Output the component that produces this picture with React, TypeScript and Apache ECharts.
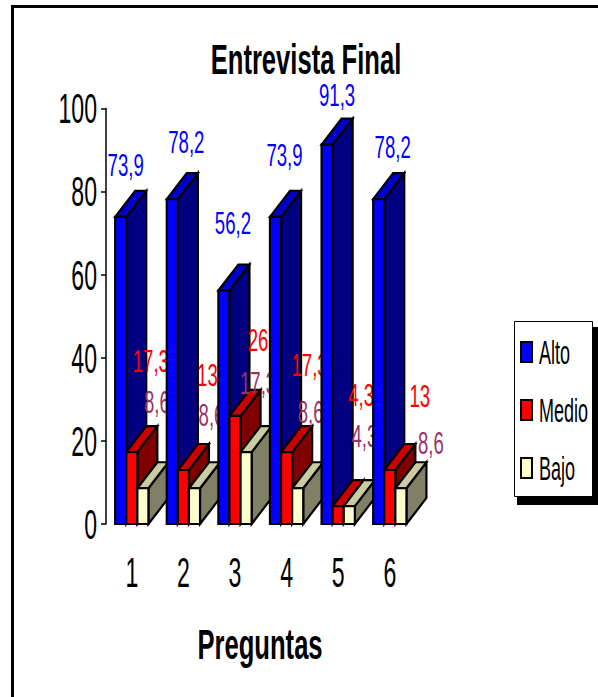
import React, { useEffect, useRef } from "react";
import * as echarts from "echarts";

const categories = ["1", "2", "3", "4", "5", "6"];
const alto = [73.9, 78.2, 56.2, 73.9, 91.3, 78.2];
const medio = [17.3, 13, 26, 17.3, 4.3, 13];
const bajo = [8.6, 8.6, 17.3, 8.6, 4.3, 8.6];
const yTicks = [0, 20, 40, 60, 80, 100];
const seriesNames = ["Alto", "Medio", "Bajo"];

// Styling and layout, kept apart from the data
const FONT = '"Liberation Sans", Arial, sans-serif';
const SQUEEZE = 0.55;
const PALETTE = [
  { front: "#0000FF", top: "#0000CC", side: "#000080", label: "#0000FF" },
  { front: "#FF0000", top: "#CC0000", side: "#800000", label: "#FF0000" },
  { front: "#FFFFCC", top: "#CCCCA3", side: "#808066", label: "#993366" },
];
const DEPTH_X = 20;
const DEPTH_Y = 26;
const BAR_RATIO = 0.215;
// Hand placement of the value labels relative to each bar's front top
const LABEL_NUDGE = [
  [[5, -52], [14, -57], [9, -67], [9, -62], [10, -50], [14, -52]],
  [[19, -91], [24, -95], [23, -76], [23, -87], [23, -111], [30, -74]],
  [[14, -86], [17, -73], [12, -69], [13, -76], [15, -70], [30, -45]],
];

const bar3d = (s: number) => (params: any, api: any) => {
  const i = api.value(0);
  const v = api.value(1);
  const [cx, y0] = api.coord([i, 0]);
  const [, y1] = api.coord([i, v]);
  const w = api.size([1, 0])[0] * BAR_RATIO;
  const x0 = cx - 1.5 * w + s * w;
  const x1 = x0 + w;
  const c = PALETTE[s];
  const z = i * 10 + s * 2;
  const edge = { stroke: "#000", lineWidth: 2.2, lineJoin: "miter" };
  const poly = (points: number[][], fill: string) => ({
    type: "polygon",
    z2: z,
    silent: true,
    shape: { points },
    style: { fill, ...edge },
  });
  const [nx, ny] = LABEL_NUDGE[s][i];
  return {
    type: "group",
    children: [
      poly([[x1, y1], [x1 + DEPTH_X, y1 - DEPTH_Y], [x1 + DEPTH_X, y0 - DEPTH_Y], [x1, y0]], c.side),
      poly([[x0, y1], [x0 + DEPTH_X, y1 - DEPTH_Y], [x1 + DEPTH_X, y1 - DEPTH_Y], [x1, y1]], c.top),
      poly([[x0, y1], [x1, y1], [x1, y0], [x0, y0]], c.front),
      {
        type: "text",
        z2: z + 1,
        silent: true,
        x: (x0 + x1) / 2 + nx,
        y: y1 + ny,
        scaleX: 0.6,
        style: {
          text: String(v).replace(".", ","),
          fill: c.label,
          fontSize: 31,
          fontFamily: FONT,
          align: "center",
          verticalAlign: "middle",
        },
      },
    ],
  };
};

const tickText = (text: string, x: number, y: number, align: string) => ({
  type: "text",
  silent: true,
  x,
  y,
  scaleX: SQUEEZE,
  style: { text, fill: "#000", fontSize: 42, fontFamily: FONT, align, verticalAlign: "middle" },
});

export default function App() {
  const ref = useRef<HTMLDivElement>(null);
  useEffect(() => {
    const chart = echarts.init(ref.current!, null, { renderer: "svg" });
    const legendRows = seriesNames.map((name, s) => {
      const y = 352 + s * 58;
      return [
        { type: "rect", shape: { x: 521, y: y - 10, width: 11, height: 20 }, style: { fill: PALETTE[s].front, stroke: "#000", lineWidth: 2 } },
        { type: "text", x: 539, y, scaleX: 0.53, style: { text: name, fill: "#000", fontSize: 34, fontFamily: FONT, align: "left", verticalAlign: "middle" } },
      ];
    });
    chart.setOption({
      animation: false,
      backgroundColor: "#fff",
      grid: { left: 106, top: 108.5, width: 309.6, height: 415.5 },
      xAxis: {
        type: "category",
        data: categories,
        axisLine: { show: false },
        axisTick: { show: false },
        axisLabel: { show: false },
      },
      yAxis: {
        type: "value",
        min: 0,
        max: 100,
        interval: 20,
        splitLine: { show: false },
        axisLine: { show: true, lineStyle: { color: "#000", width: 1.5 } },
        axisTick: { show: true, length: 5, lineStyle: { color: "#000", width: 1.5 } },
        axisLabel: { show: false },
      },
      series: [
        ...[alto, medio, bajo].map((vals, s) => ({
          type: "custom",
          name: seriesNames[s],
          clip: false,
          silent: true,
          data: vals.map((v, i) => [i, v]),
          renderItem: bar3d(s),
        })),
        {
          type: "custom",
          name: "yTickLabels",
          silent: true,
          clip: false,
          data: yTicks.map((v) => [0, v]),
          renderItem: (p: any, api: any) => {
            const [x, y] = api.coord([0, api.value(1)]);
            const band = api.size([1, 0])[0];
            return tickText(String(api.value(1)), x - band / 2 - 9, y, "right");
          },
        },
        {
          type: "custom",
          name: "xTickLabels",
          silent: true,
          clip: false,
          data: categories.map((c, i) => [i, 0]),
          renderItem: (p: any, api: any) => {
            const i = api.value(0);
            const [x, y] = api.coord([i, 0]);
            return tickText(categories[i], x, y + 48, "center");
          },
        },
      ],
      graphic: [
        { type: "polyline", shape: { points: [[12.5, 697], [12.5, 6.5], [598, 6.5]] }, style: { fill: "none", stroke: "#000", lineWidth: 3 } },
        { type: "text", x: 306, y: 60, scaleX: 0.61, style: { text: "Entrevista Final", fill: "#000", fontSize: 42, fontWeight: "bold", fontFamily: FONT, align: "center", verticalAlign: "middle" } },
        { type: "text", x: 260, y: 645, scaleX: 0.61, style: { text: "Preguntas", fill: "#000", fontSize: 42, fontWeight: "bold", fontFamily: FONT, align: "center", verticalAlign: "middle" } },
        { type: "rect", shape: { x: 517, y: 327, width: 81, height: 178 }, style: { fill: "#000" } },
        { type: "rect", shape: { x: 514.5, y: 321.5, width: 78, height: 175 }, style: { fill: "#fff", stroke: "#000", lineWidth: 1 } },
        ...legendRows.flat(),
      ],
    });
    return () => chart.dispose();
  }, []);
  return <div ref={ref} style={{ position: "fixed", left: 0, top: 0, width: 598, height: 697 }} />;
}
